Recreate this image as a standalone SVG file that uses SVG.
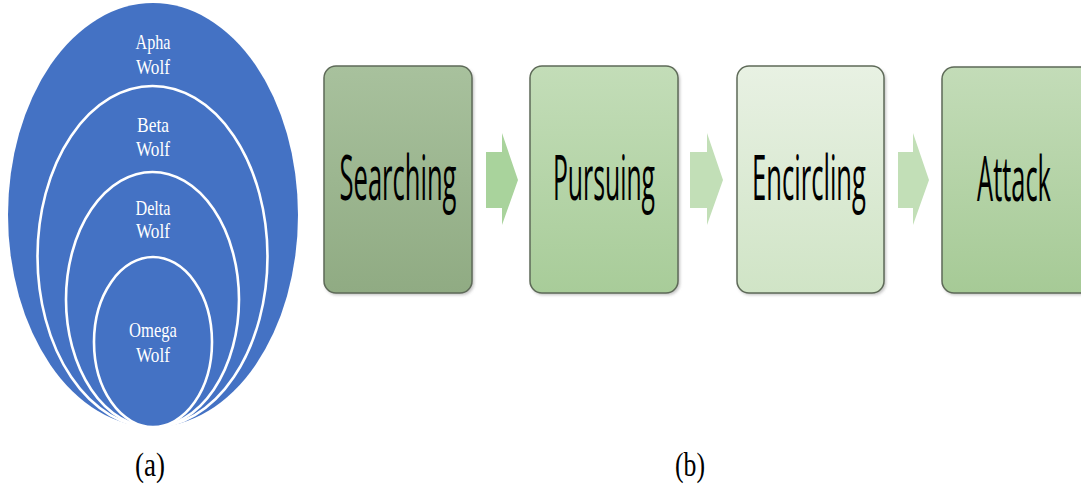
<svg xmlns="http://www.w3.org/2000/svg" width="1081" height="488" viewBox="0 0 1081 488">
  <defs>
    <linearGradient id="gSearch" x1="0" y1="0" x2="0" y2="1">
      <stop offset="0" stop-color="#a8c19d"/>
      <stop offset="1" stop-color="#90ab83"/>
    </linearGradient>
    <linearGradient id="gPursue" x1="0" y1="0" x2="0" y2="1">
      <stop offset="0" stop-color="#c3ddb8"/>
      <stop offset="1" stop-color="#a8cc99"/>
    </linearGradient>
    <linearGradient id="gEncircle" x1="0" y1="0" x2="0" y2="1">
      <stop offset="0" stop-color="#e8f1e3"/>
      <stop offset="1" stop-color="#d0e4c6"/>
    </linearGradient>
    <linearGradient id="gAttack" x1="0" y1="0" x2="0" y2="1">
      <stop offset="0" stop-color="#c3dcb8"/>
      <stop offset="1" stop-color="#a6ca96"/>
    </linearGradient>
    <filter id="shadow" x="-10%" y="-10%" width="130%" height="130%">
      <feGaussianBlur stdDeviation="1.5"/>
    </filter>
  </defs>
  <style>
    .ring { stroke: #ffffff; stroke-width: 2.6; fill: #4472c4; }
    .wolf { font-family: "Liberation Serif", "Times New Roman", serif; font-size: 21px; fill: #ffffff; text-anchor: middle; }
    .box { stroke: #5e6a58; stroke-width: 1.5; }
    .boxshadow { fill: #9a9a9a; opacity: 0.6; filter: url(#shadow); }
    .step { font-family: "Open Sans", "Liberation Sans", sans-serif; font-size: 62px; fill: #000000; text-anchor: middle; }
    .caption { font-family: "Liberation Serif", "Times New Roman", serif; font-size: 33px; fill: #000000; text-anchor: middle; }
  </style>

  <rect width="1081" height="488" fill="#ffffff"/>

  <!-- (a) nested wolf hierarchy -->
  <g id="alpha">
    <ellipse cx="153" cy="215" rx="145" ry="212" fill="#4472c4"/>
    <text class="wolf" x="153" y="49" textLength="35" lengthAdjust="spacingAndGlyphs">Apha</text>
    <text class="wolf" x="153" y="74" textLength="34" lengthAdjust="spacingAndGlyphs">Wolf</text>
  </g>
  <g id="beta">
    <ellipse class="ring" cx="152.5" cy="256.5" rx="115" ry="170.5"/>
    <text class="wolf" x="153" y="132" textLength="32" lengthAdjust="spacingAndGlyphs">Beta</text>
    <text class="wolf" x="153" y="156" textLength="34" lengthAdjust="spacingAndGlyphs">Wolf</text>
  </g>
  <g id="delta">
    <ellipse class="ring" cx="152.5" cy="299.5" rx="86.5" ry="127.5"/>
    <text class="wolf" x="153" y="215" textLength="35" lengthAdjust="spacingAndGlyphs">Delta</text>
    <text class="wolf" x="153" y="238" textLength="34" lengthAdjust="spacingAndGlyphs">Wolf</text>
  </g>
  <g id="omega">
    <ellipse class="ring" cx="153" cy="342" rx="59" ry="85"/>
    <text class="wolf" x="153" y="337" textLength="48" lengthAdjust="spacingAndGlyphs">Omega</text>
    <text class="wolf" x="153" y="362" textLength="34" lengthAdjust="spacingAndGlyphs">Wolf</text>
  </g>

  <!-- (b) hunting process -->
  <g id="connectors">
    <polygon points="486,152 502,152 502,133 518,180 502,225 502,208 486,208" fill="#a9d39c"/>
    <polygon points="690,152 707,152 707,133 723,180 707,225 707,208 690,208" fill="#c2dfb7"/>
    <polygon points="898,152 913,152 913,133 929,180 913,225 913,208 898,208" fill="#c2dfb7"/>
  </g>

  <!-- step labels are set in a narrow face: horizontal scale 0.45 -->
  <g id="searching">
    <rect class="boxshadow" x="325" y="68" width="149" height="227" rx="12"/>
    <rect class="box" x="324" y="66" width="148" height="227" rx="12" fill="url(#gSearch)"/>
    <text class="step" transform="translate(398,200) scale(0.45,1)" x="0" y="0" textLength="260" lengthAdjust="spacingAndGlyphs">Searching</text>
  </g>
  <g id="pursuing">
    <rect class="boxshadow" x="531" y="68" width="149" height="227" rx="12"/>
    <rect class="box" x="530" y="66" width="148" height="227" rx="12" fill="url(#gPursue)"/>
    <text class="step" transform="translate(604,200) scale(0.45,1)" x="0" y="0" textLength="227" lengthAdjust="spacingAndGlyphs">Pursuing</text>
  </g>
  <g id="encircling">
    <rect class="boxshadow" x="738" y="68" width="148" height="227" rx="12"/>
    <rect class="box" x="737" y="66" width="147" height="227" rx="12" fill="url(#gEncircle)"/>
    <text class="step" transform="translate(809,200) scale(0.45,1)" x="0" y="0" textLength="253" lengthAdjust="spacingAndGlyphs">Encircling</text>
  </g>
  <g id="attack">
    <rect class="boxshadow" x="943" y="68" width="160" height="227" rx="12"/>
    <rect class="box" x="942" y="67" width="160" height="226" rx="12" fill="url(#gAttack)"/>
    <text class="step" transform="translate(1014,201) scale(0.45,1)" x="0" y="0" textLength="164" lengthAdjust="spacingAndGlyphs">Attack</text>
  </g>

  <text class="caption" x="150" y="476" textLength="30" lengthAdjust="spacingAndGlyphs">(a)</text>
  <text class="caption" x="690" y="476" textLength="30" lengthAdjust="spacingAndGlyphs">(b)</text>
</svg>
